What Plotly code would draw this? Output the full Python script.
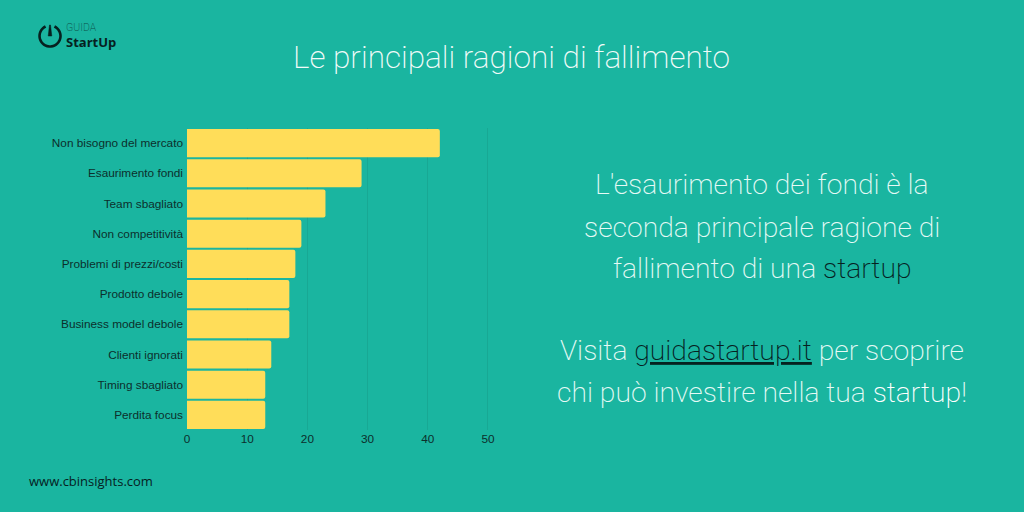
"""Bar chart of the main reasons why startups fail."""
import math
import plotly.graph_objects as go

# Chart data
reasons = ['Non bisogno del mercato', 'Esaurimento fondi', 'Team sbagliato', 'Non competitività',
           'Problemi di prezzi/costi', 'Prodotto debole', 'Business model debole',
           'Clienti ignorati', 'Timing sbagliato', 'Perdita focus']
percentages = [42, 29, 23, 19, 18, 17, 17, 14, 13, 13]
x_ticks = [0, 10, 20, 30, 40, 50]

# Texts
title_text = 'Le principali ragioni di fallimento'
source_text = 'www.cbinsights.com'
DARK = '#06211f'
side_lines = [
    "L'esaurimento dei fondi è la",
    'seconda principale ragione di',
    f'fallimento di una <span style="color:{DARK}">startup</span>',
    f'Visita <span style="color:{DARK}"><u>guidastartup.it</u></span> per scoprire',
    'chi può investire nella tua <span style="color:#ffffff">startup</span>!',
]
side_line_y = [184, 227, 268, 350, 392]

BACKGROUND = '#1ab5a0'
BAR_COLOR = '#ffdd59'
WIDTH, HEIGHT = 1024, 512
# The x axis runs a little past 50 so that the last gridline is still drawn
LEFT, RIGHT, TOP, BOTTOM = 187, 491.01, 128, 430
X_MAX = 50.5
LIGHT_FONT = 'Roboto'


def px_x(x: float) -> float:
    """Return the paper coordinate of the pixel column x."""
    return (x - LEFT) / (RIGHT - LEFT)


def px_y(y: float) -> float:
    """Return the paper coordinate of the pixel row y."""
    return (BOTTOM - y) / (BOTTOM - TOP)


def add_text(fig: go.Figure, x: float, y: float, text: str, size: float, color: str,
             family: str, weight: int = 400, anchor: str = 'center') -> None:
    """Add a text annotation centred vertically on the pixel position (x, y)."""
    fig.add_annotation(x=px_x(x), y=px_y(y), xref='paper', yref='paper', text=text,
                       showarrow=False, xanchor=anchor, yanchor='middle', align=anchor,
                       font=dict(size=size, color=color, family=family, weight=weight))


def add_logo(fig: go.Figure) -> None:
    """Draw the power-button logo in the top left corner."""
    cx, cy, radius = 50, 36, 10.5
    points = []
    for degrees in range(-65, 250, 10):
        angle = math.radians(degrees)
        points.append((cx + radius * math.cos(angle), cy + radius * math.sin(angle)))
    path = 'M ' + ' L '.join(f'{px_x(x):.4f} {px_y(y):.4f}' for x, y in points)
    fig.add_shape(type='path', path=path, xref='paper', yref='paper',
                  line=dict(color=DARK, width=2.6))
    needle = (f'M {px_x(48.2):.4f} {px_y(36):.4f} L {px_x(49.5):.4f} {px_y(25):.4f} '
              f'L {px_x(50.5):.4f} {px_y(25):.4f} L {px_x(51.8):.4f} {px_y(36):.4f} Z')
    fig.add_shape(type='path', path=needle, xref='paper', yref='paper',
                  fillcolor=DARK, line=dict(color=DARK, width=0.5))
    add_text(fig, 64, 27.5, 'GUIDA', 10.5, '#0d4f49', LIGHT_FONT, 200, 'left')
    add_text(fig, 63.5, 42, 'StartUp', 13, DARK, 'Open Sans', 700, 'left')


fig = go.Figure(go.Bar(x=percentages, y=reasons, orientation='h', marker_color=BAR_COLOR,
                       marker_line_width=0, width=0.93))

fig.update_layout(
    width=WIDTH, height=HEIGHT, autosize=False,
    margin=dict(l=LEFT, r=WIDTH - RIGHT, t=TOP, b=HEIGHT - BOTTOM, pad=0),
    paper_bgcolor=BACKGROUND, plot_bgcolor=BACKGROUND,
    barcornerradius=2, showlegend=False,
    font=dict(family='Liberation Sans', size=11.8, color='#0c2f2c'),
)
fig.update_xaxes(range=[0, X_MAX], tickvals=x_ticks, showgrid=True,
                 gridcolor='rgba(0,0,0,0.07)', gridwidth=1, zeroline=False, showline=False,
                 ticks='', ticklen=0)
fig.update_yaxes(categoryorder='array', categoryarray=reasons, autorange='reversed',
                 showgrid=False, zeroline=False, showline=False, ticks='', ticklen=0,
                 ticklabelstandoff=3)

add_text(fig, 512, 57, title_text, 31.5, '#f2fbf9', LIGHT_FONT, 200)
for line, line_y in zip(side_lines, side_line_y):
    add_text(fig, 762, line_y, line, 28.3, '#e6faf6', LIGHT_FONT, 200)
add_text(fig, 27, 481, source_text, 13, DARK, 'Open Sans', 400, 'left')
add_logo(fig)

# The page's default body margin would show as a white frame
fig.write_html("out.html", config=dict(displayModeBar=False),
               post_script="document.body.style.margin='0';"
                           "document.body.style.overflow='hidden';")
